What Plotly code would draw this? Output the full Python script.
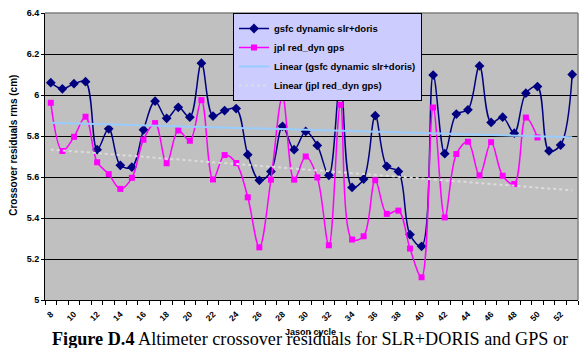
import numpy as np
import plotly.graph_objects as go

# Jason cycles on the category axis
cycles = list(range(8, 54))

# Crossover residual rms (cm), GSFC dynamic SLR+DORIS orbits
gsfc = [6.060, 6.030, 6.055, 6.065, 5.733, 5.835, 5.657, 5.648, 5.830, 5.970,
        5.886, 5.940, 5.892, 6.155, 5.897, 5.924, 5.934, 5.709, 5.584, 5.627,
        5.847, 5.733, 5.822, 5.754, 5.608, 6.070, 5.549, 5.590, 5.899, 5.652,
        5.627, 5.319, 5.262, 6.097, 5.714, 5.907, 5.928, 6.142, 5.866, 5.892,
        5.814, 6.009, 6.041, 5.727, 5.756, 6.100]

# Crossover residual rms (cm), JPL reduced-dynamic GPS orbits (none after cycle 50)
jpl = [5.962, 5.727, 5.796, 5.894, 5.672, 5.614, 5.542, 5.596, 5.782, 5.863,
       5.667, 5.827, 5.777, 5.975, 5.588, 5.707, 5.668, 5.501, 5.257, 5.587,
       5.993, 5.587, 5.700, 5.598, 5.267, 5.952, 5.295, 5.311, 5.584, 5.420,
       5.436, 5.251, 5.111, 5.939, 5.403, 5.712, 5.772, 5.608, 5.770, 5.606,
       5.566, 5.890, 5.793, None, None, None]

y_ticks = [5.0, 5.2, 5.4, 5.6, 5.8, 6.0, 6.2, 6.4]
y_tick_labels = ["5", "5.2", "5.4", "5.6", "5.8", "6", "6.2", "6.4"]
x_label_cycles = list(range(8, 53, 2))

name_gsfc = "gsfc dynamic slr+doris"
name_jpl = "jpl red_dyn gps"


def linear_trend(xs, ys):
    """Least-squares straight line over the whole cycle range."""
    pts = [(x, y) for x, y in zip(xs, ys) if y is not None]
    px = np.array([p[0] for p in pts], dtype=float)
    py = np.array([p[1] for p in pts], dtype=float)
    slope, icpt = np.polyfit(px, py, 1)
    return [slope * x + icpt for x in xs]


trend_gsfc = linear_trend(cycles, gsfc)
trend_jpl = linear_trend(cycles, jpl)

W, H = 582, 348
L, R, T, B = 45, 4, 13, 47.5
pw, ph = W - L - R, H - T - B


def px_x(x):
    return (x - L) / pw


def px_y(y):
    return (H - B - y) / ph


fig = go.Figure()
fig.add_trace(go.Scatter(
    x=cycles, y=gsfc, name=name_gsfc, mode="lines+markers",
    line=dict(color="#000080", width=1.5, shape="spline", smoothing=1.0),
    marker=dict(symbol="diamond", size=7.5, color="#000080"),
))
fig.add_trace(go.Scatter(
    x=cycles, y=jpl, name=name_jpl, mode="lines+markers",
    line=dict(color="#FF00FF", width=1.5, shape="spline", smoothing=1.0),
    marker=dict(symbol="square", size=6, color="#FF00FF"),
))
fig.add_trace(go.Scatter(
    x=cycles, y=trend_gsfc, name="Linear (" + name_gsfc + ")", mode="lines",
    line=dict(color="#99CCFF", width=2),
))
fig.add_trace(go.Scatter(
    x=cycles, y=trend_jpl, name="Linear (" + name_jpl + ")", mode="lines",
    line=dict(color="#DCDCDC", width=2, dash="dot"),
))

tick_font = dict(family="Liberation Sans, Arial", size=9, color="black", weight="bold")

fig.update_layout(
    width=W, height=H,
    margin=dict(l=L, r=R, t=T, b=B, autoexpand=False),
    paper_bgcolor="white",
    plot_bgcolor="#C0C0C0",
    showlegend=True,
    legend=dict(
        x=px_x(233), y=1.0, xanchor="left", yanchor="top",
        bgcolor="#CCCCFF", bordercolor="black", borderwidth=1,
        font=dict(family="Liberation Sans, Arial", size=9.5, color="black", weight="bold"),
        tracegroupgap=0, itemwidth=30,
    ),
    xaxis=dict(
        range=[7.5, 53.5], showgrid=False, zeroline=False,
        showline=True, linecolor="black", linewidth=1,
        tickmode="array", tickvals=x_label_cycles,
        ticktext=[str(c) for c in x_label_cycles],
        ticks="", tickangle=-45, tickfont=dict(tick_font, size=8.5),
        ticklabelstandoff=5,
        minor=dict(tickmode="array", tickvals=[c - 0.5 for c in cycles] + [53.5],
                   ticks="outside", ticklen=4, tickcolor="black", showgrid=False),
    ),
    yaxis=dict(
        range=[5.0, 6.4], zeroline=False,
        showline=True, linecolor="black", linewidth=1,
        showgrid=True, gridcolor="black", gridwidth=1,
        tickmode="array", tickvals=y_ticks, ticktext=y_tick_labels,
        ticks="outside", ticklen=3, tickcolor="black",
        tickfont=tick_font,
    ),
    shapes=[
        dict(type="line", xref="paper", yref="paper", x0=0, x1=1, y0=1, y1=1,
             line=dict(color="#808080", width=1.5), layer="above"),
        dict(type="line", xref="paper", yref="paper", x0=1, x1=1, y0=0, y1=1,
             line=dict(color="#808080", width=1.5), layer="above"),
    ],
    annotations=[
        dict(text="Crossover residuals rms (cm)", textangle=-90,
             xref="paper", yref="paper", x=px_x(14), y=px_y(146),
             xanchor="center", yanchor="middle", showarrow=False,
             font=dict(family="Liberation Sans, Arial", size=10, color="black", weight="bold")),
        dict(text="<b>Figure D.4</b> Altimeter crossover residuals for SLR+DORIS and GPS or",
             xref="paper", yref="paper", x=px_x(50), y=px_y(340),
             xanchor="left", yanchor="middle", showarrow=False,
             font=dict(family="Liberation Serif, Times New Roman", size=18.2, color="black")),
        dict(text="Jason cycle",
             xref="paper", yref="paper", x=px_x(310), y=px_y(333),
             xanchor="center", yanchor="middle", showarrow=False,
             font=dict(family="Liberation Sans, Arial", size=9, color="black", weight="bold")),
    ],
)

fig.write_html("out.html")
